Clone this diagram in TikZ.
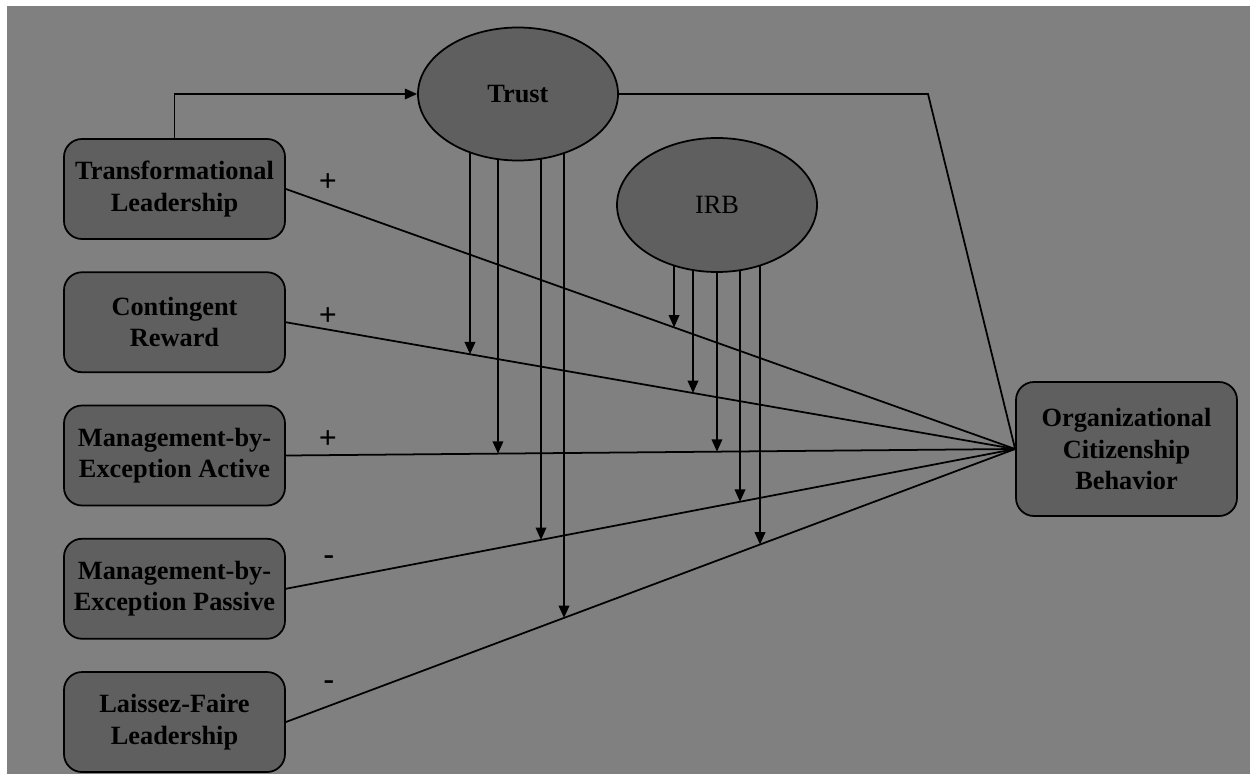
\documentclass[tikz,border=0pt]{standalone}
\usepackage{fontspec}
\setmainfont{Liberation Serif}
\usepackage{xcolor}
\usepackage{tikz}
\usetikzlibrary{shapes,positioning,arrows.meta}
\definecolor{bggray}{RGB}{128,128,128}
\definecolor{boxgray}{RGB}{95,95,95}
\pgfdeclarelayer{backdrop}
\pgfdeclarelayer{behind}
\pgfsetlayers{backdrop,behind,main}
\tikzstyle{factor}=[
    rectangle,
    rounded corners=0.36cm,
    draw=black,
    fill=boxgray,
    line width=1pt,
    text centered,
    align=center,
    text=black,
    font=\fontsize{15}{17.8}\selectfont\bfseries,
    minimum width=4.42cm,
    minimum height=2cm]
\tikzstyle{moderator}=[
    ellipse,
    draw=black,
    fill=boxgray,
    line width=1pt,
    minimum width=4cm,
    minimum height=2.66cm,
    font=\fontsize{15}{17.8}\selectfont]
\tikzstyle{link}=[line width=1pt, draw=black]
\tikzstyle{effect}=[link, -{Triangle[length=7pt,width=6pt]}]
\tikzstyle{sign}=[font=\fontsize{18}{20}\selectfont\bfseries]

\begin{document}
\begin{tikzpicture}
    \useasboundingbox (0,0) rectangle (25,-15.48);
    \begin{pgfonlayer}{backdrop}
      \fill[white] (0,0) rectangle (25,-15.48);
      \fill[bggray] (0.14,-0.12) rectangle (25,-15.48);
    \end{pgfonlayer}

    \node[factor] (TL) at (3.49,-3.78) {Transformational\\Leadership};
    \node[factor, below=0.63cm of TL] (CR) {Contingent\\Reward};
    \node[factor, below=0.63cm of CR] (MBEA) {Management-by-\\Exception Active};
    \node[factor, below=0.63cm of MBEA] (MBEP) {Management-by-\\Exception Passive};
    \node[factor, below=0.63cm of MBEP] (LF) {Laissez-Faire\\Leadership};

    \node[factor, minimum height=2.68cm] (OCB) at (22.53,-8.98) {Organizational\\Citizenship\\Behavior};

    \node[moderator, font=\fontsize{15}{17.8}\selectfont\bfseries] (Trust) at (10.36,-1.88) {Trust};
    \node[moderator, minimum height=2.68cm] (IRB) at (14.34,-4.1) {IRB};
    \coordinate (bend) at (18.56,0);

    \draw[effect] (TL.north) |- (Trust.west);
    \draw[link] (Trust.east) -- (Trust.east -| bend) -- (OCB.west);
    \foreach \src in {TL,CR,MBEA,MBEP,LF}
      \draw[link] (\src.east) -- (OCB.west);

    \node[sign] (sTL) at (6.56,-3.66) {+};
    \node[sign] (sCR) at (6.56,-6.34) {+};
    \node[sign] (sMBEA) at (6.56,-8.8) {+};
    \node[sign] (sMBEP) at (6.58,-11.2) {-};
    \node[sign] (sLF) at (6.58,-13.7) {-};

    \begin{pgfonlayer}{behind}
      \foreach \x/\src in {9.4/CR,9.96/MBEA,10.82/MBEP,11.28/LF}{
        \coordinate (top) at (\x,0);
        \coordinate (bot) at (\x,-16);
        \draw[effect] (Trust.center -| top) -- (intersection of \src.east--OCB.west and top--bot);
      }
      \foreach \x/\src in {13.48/TL,13.86/CR,14.34/MBEA,14.8/MBEP,15.2/LF}{
        \coordinate (top) at (\x,0);
        \coordinate (bot) at (\x,-16);
        \draw[effect] (IRB.center -| top) -- (intersection of \src.east--OCB.west and top--bot);
      }
    \end{pgfonlayer}
\end{tikzpicture}
\end{document}
